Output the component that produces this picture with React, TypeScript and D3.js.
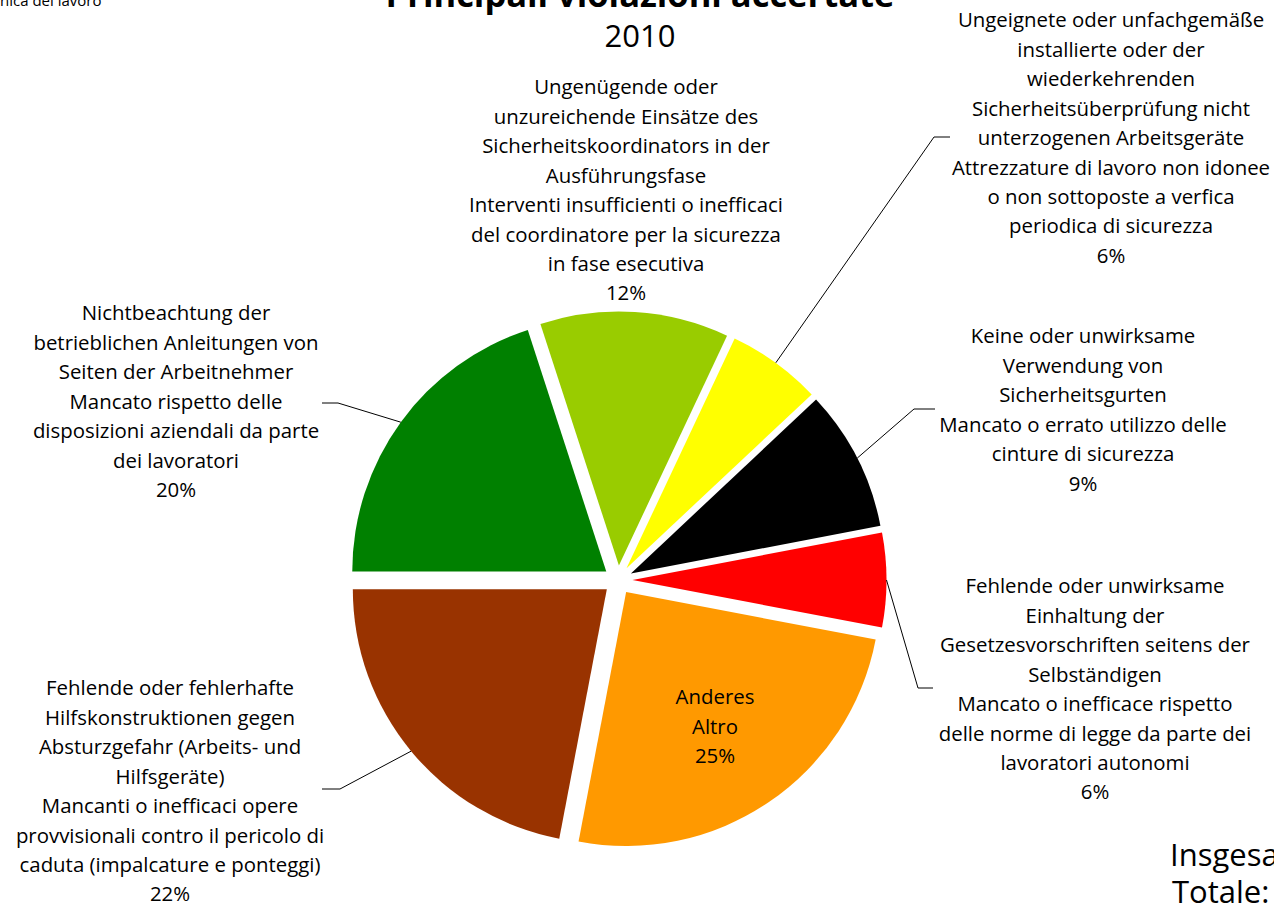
import React from "react";
import * as d3 from "d3";

// ---- data ----
const categories = [
  "Nichtbeachtung der betrieblichen Anleitungen",
  "Ungenügende Einsätze des Sicherheitskoordinators",
  "Ungeignete Arbeitsgeräte",
  "Sicherheitsgurten",
  "Gesetzesvorschriften Selbständige",
  "Anderes",
  "Hilfskonstruktionen gegen Absturzgefahr",
];
const values = [20, 12, 6, 9, 6, 25, 22];
const colors = ["#008000", "#99CC00", "#FFFF00", "#000000", "#FF0000", "#FF9900", "#993300"];
const labelLines: string[][] = [
  ["Nichtbeachtung der", "betrieblichen Anleitungen von", "Seiten der Arbeitnehmer", "Mancato rispetto delle", "disposizioni aziendali da parte", "dei lavoratori"],
  ["Ungenügende oder", "unzureichende Einsätze des", "Sicherheitskoordinators in der", "Ausführungsfase", "Interventi insufficienti o inefficaci", "del coordinatore per la sicurezza", "in fase esecutiva"],
  ["Ungeignete oder unfachgemäße", "installierte oder der", "wiederkehrenden", "Sicherheitsüberprüfung nicht", "unterzogenen Arbeitsgeräte", "Attrezzature di lavoro non idonee", "o non sottoposte a verfica", "periodica di sicurezza"],
  ["Keine oder unwirksame", "Verwendung von", "Sicherheitsgurten", "Mancato o errato utilizzo delle", "cinture di sicurezza"],
  ["Fehlende oder unwirksame", "Einhaltung der", "Gesetzesvorschriften seitens der", "Selbständigen", "Mancato o inefficace rispetto", "delle norme di legge da parte dei", "lavoratori autonomi"],
  ["Anderes", "Altro"],
  ["Fehlende oder fehlerhafte", "Hilfskonstruktionen gegen", "Absturzgefahr (Arbeits- und", "Hilfsgeräte)", "Mancanti o inefficaci opere", "provvisionali contro il pericolo di", "caduta (impalcature e ponteggi)"],
];
const titleText = "Principali violazioni accertate";
const yearText = "2010";

// ---- layout ----
const W = 1274, H = 903;
const cx = 618, cy = 580, R = 254, explode = 14.5;
const FONT = "'Open Sans', sans-serif";
const FS = 20.4;
const LH = 29.45;
const labelLayout: { x: number; y: number; leader: [number, number][] | null }[] = [
  { x: 176, y: 313, leader: [[338, 403], [322, 403]] },
  { x: 626, y: 87, leader: null },
  { x: 1111, y: 20, leader: [[934, 137], [950, 137]] },
  { x: 1083, y: 336, leader: [[914, 409], [935, 409]] },
  { x: 1095, y: 586, leader: [[918, 688], [933, 688]] },
  { x: 715, y: 697, leader: null },
  { x: 170, y: 688, leader: [[340, 789], [322, 789]] },
];

export default function App() {
  const pie = d3
    .pie<number>()
    .sort(null)
    .value((d) => d)
    .startAngle(-Math.PI / 2)
    .endAngle((3 * Math.PI) / 2);
  const arcs = pie(values);
  const arcGen = d3.arc<d3.PieArcDatum<number>>().innerRadius(0).outerRadius(R);

  return (
    <svg width={W} height={H} style={{ position: "absolute", left: 0, top: 0, background: "#fff" }} fontFamily={FONT}>
      <rect width={W} height={H} fill="#fff" />
      <text x={0} y={6} fontSize={15} fill="#000">nica del lavoro</text>
      <text x={640} y={7} fontSize={34.5} fontWeight="bold" textAnchor="middle" fill="#000">{titleText}</text>
      <text x={640} y={47} fontSize={31} textAnchor="middle" fill="#000">{yearText}</text>

      {arcs.map((a, i) => {
        const mid = (a.startAngle + a.endAngle) / 2;
        const ox = Math.sin(mid) * explode;
        const oy = -Math.cos(mid) * explode;
        return (
          <g key={i} transform={`translate(${cx + ox},${cy + oy})`}>
            <path d={arcGen(a) || ""} fill={colors[i]} />
          </g>
        );
      })}

      {arcs.map((a, i) => {
        const L = labelLayout[i];
        if (!L.leader) return null;
        const mid = (a.startAngle + a.endAngle) / 2;
        const ex = cx + Math.sin(mid) * (explode + R);
        const ey = cy - Math.cos(mid) * (explode + R);
        const pts: [number, number][] = [[ex, ey], ...L.leader];
        return <path key={"l" + i} d={d3.line()(pts) || ""} fill="none" stroke="#000" strokeWidth={1} />;
      })}

      {arcs.map((a, i) => {
        const L = labelLayout[i];
        const lines = [...labelLines[i], `${values[i]}%`];
        return (
          <text key={"t" + i} textAnchor="middle" fontSize={FS} fill="#000">
            {lines.map((s, k) => (
              <tspan key={k} x={L.x} y={L.y + k * LH + FS * 0.36}>{s}</tspan>
            ))}
          </text>
        );
      })}

      <text x={1170} y={866} fontSize={31} fill="#000">Insgesa</text>
      <text x={1172} y={903} fontSize={31} fill="#000">Totale:</text>
    </svg>
  );
}
